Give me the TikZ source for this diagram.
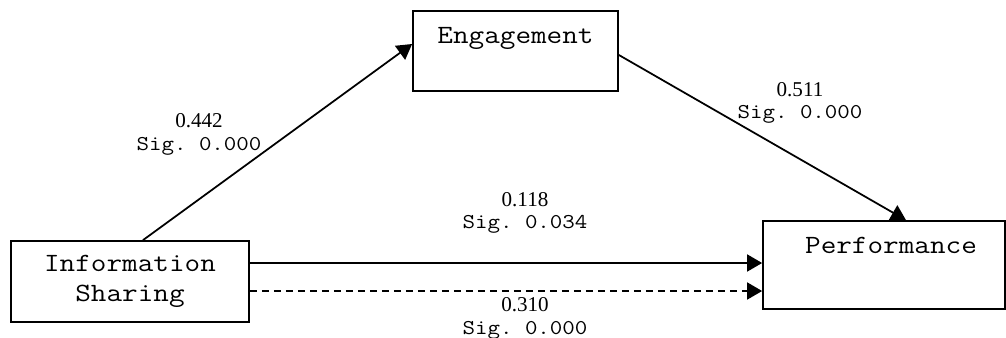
\documentclass[tikz,border=0pt]{standalone}
\usepackage{fontspec}
\setmainfont{Liberation Serif}
\setmonofont[FakeStretch=1.15]{Latin Modern Mono}
\usetikzlibrary{arrows.meta}

\begin{document}
\begin{tikzpicture}[
    varbox/.style={draw,line width=1pt,inner sep=0pt,
      font=\ttfamily\fontsize{15}{17}\selectfont},
    coef/.style={align=center,inner sep=0pt,font=\fontsize{12}{12.8}\selectfont},
    effect/.style={line width=1pt,-{Triangle[length=0.3cm,width=0.34cm]}}
  ]
    \useasboundingbox (0,0) rectangle (20.12,6.74);

    % Variable boxes
    \node[varbox,minimum width=4.76cm,minimum height=1.62cm,align=center]
      (info) at (2.6,1.11) {Information\\Sharing};
    \node[varbox,minimum width=4.1cm,minimum height=1.6cm,
      text height=0.64cm,text depth=0.96cm]
      (eng) at (10.31,5.72) {Engagement};
    \node[varbox,minimum width=4.84cm,minimum height=1.76cm,
      text height=0.64cm,text depth=1.12cm]
      (perf) at (17.68,1.44) {\hspace{0.28cm}Performance};

    % Paths
    \draw[effect] ([xshift=0.26cm]info.north) -- ([yshift=0.14cm]eng.west);
    \draw[effect] ([yshift=-0.08cm]eng.east) -- ([xshift=0.44cm]perf.north);
    \draw[effect] ([yshift=0.37cm]info.east)
      -- ([yshift=0.37cm]info.east -| perf.west);
    \draw[effect,dash pattern=on 0.14cm off 0.1cm] ([yshift=-0.19cm]info.east)
      -- ([yshift=-0.19cm]info.east -| perf.west);

    % Coefficients
    \node[coef] (c442) at (3.98,4.05) {0.442\\\ttfamily Sig. 0.000};
    \node[coef] (c511) at (16.0,4.68) {0.511\\\ttfamily Sig. 0.000};
    \node[coef] (c118) at (10.5,2.48) {0.118\\\ttfamily Sig. 0.034};
    \node[coef] (c310) at (10.5,0.37) {0.310\\\ttfamily Sig. 0.000};
\end{tikzpicture}
\end{document}
